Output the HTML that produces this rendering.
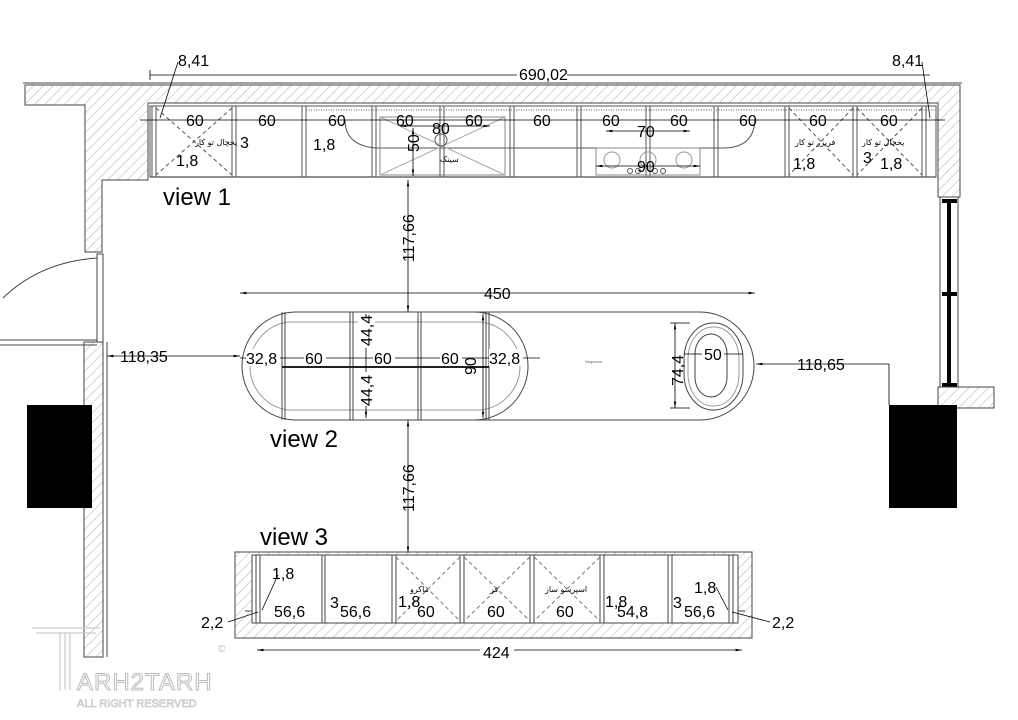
<!DOCTYPE html>
<html><head><meta charset="utf-8"><style>
html,body{margin:0;padding:0;background:#fff;}
svg{display:block;}
text{font-family:"Liberation Sans",sans-serif;fill:#000;}
.t{font-size:16px;}
.v{font-size:24px;}
.fa{font-family:"DejaVu Sans",sans-serif;font-size:8px;}
</style></head><body>
<svg width="1018" height="720" viewBox="0 0 1018 720" xmlns="http://www.w3.org/2000/svg">
<defs>
<pattern id="h" width="7" height="7" patternUnits="userSpaceOnUse" patternTransform="rotate(45)">
<line x1="0" y1="0" x2="0" y2="7" stroke="#999" stroke-width="0.8"/>
</pattern>
<marker id="a" markerWidth="8" markerHeight="6" refX="8" refY="3" orient="auto-start-reverse"><path d="M0,1.5 L8,3 L0,4.5z" fill="#000"/></marker>
</defs>
<g stroke="#444" stroke-width="1">
<path d="M25,85 H960 V197 H938 V103 H148 V180 H102 V252 H85 V105 H25 Z" fill="url(#h)"/>
<path d="M23,83 H962" fill="none"/>
<rect x="84" y="342" width="19" height="315" fill="url(#h)"/>
<line x1="107" y1="342" x2="107" y2="657"/>
<rect x="97" y="254" width="6" height="88" fill="#fff"/>
<path d="M97,258 Q40,262 3,298" fill="none"/>
<line x1="0" y1="340" x2="97" y2="340"/><line x1="0" y1="345" x2="97" y2="345"/>
<rect x="940" y="197" width="18" height="190" fill="#fff"/>
<line x1="949" y1="199" x2="949" y2="385" stroke="#000" stroke-width="4"/>
<line x1="942" y1="201" x2="957" y2="201" stroke="#000" stroke-width="4"/>
<line x1="942" y1="294" x2="957" y2="294" stroke="#000" stroke-width="4"/>
<line x1="942" y1="385" x2="957" y2="385" stroke="#000" stroke-width="4"/>
<rect x="938" y="387" width="56" height="21" fill="url(#h)"/>
</g>
<rect x="27" y="405" width="65" height="103" fill="#000"/>
<rect x="889" y="405" width="68" height="103" fill="#000"/>

<g stroke="#555" stroke-width="1" fill="none">
<rect x="150" y="106" width="786" height="71"/>
<line x1="150" y1="177" x2="936" y2="177" stroke="#222"/>
<path d="M152,106V177 M156,106V177 M232,106V177 M236,106V177 M302,106V177 M306,106V177 M372,106V177 M376,106V177 M440,106V177 M444,106V177 M510,106V177 M514,106V177 M577,106V177 M581,106V177 M646,106V177 M650,106V177 M714,106V177 M718,106V177 M785,106V177 M789,106V177 M853,106V177 M857,106V177 M922,106V177 M926,106V177"/>
<path d="M156,108 L232,175 M232,108 L156,175 M789,108 L853,175 M853,108 L789,175 M857,108 L922,175 M922,108 L857,175" stroke-dasharray="4,3"/>
<line x1="306" y1="110" x2="936" y2="110" stroke-dasharray="1,1.5"/>
<path d="M345,120 Q345,145 375,148 H520"/>
<path d="M755,118 Q755,147 725,148 H520"/>
<rect x="380" y="117" width="125" height="58" stroke="#888"/>
<path d="M380,117 L505,175 M505,117 L380,175" stroke="#aaa"/>
<circle cx="441" cy="140" r="6"/>
<rect x="596" y="148" width="104" height="27" stroke="#888"/>
<circle cx="612" cy="160" r="8" stroke="#999"/><circle cx="648" cy="160" r="8" stroke="#999"/><circle cx="684" cy="160" r="8" stroke="#999"/>
<circle cx="630" cy="171" r="2.5"/><circle cx="638" cy="171" r="2.5"/><circle cx="655" cy="171" r="2.5"/><circle cx="663" cy="171" r="2.5"/>
</g>
<g stroke="#000" stroke-width="0.8" fill="none">
<line x1="140" y1="120" x2="945" y2="120"/>
<line x1="150" y1="75" x2="930" y2="75"/>
<line x1="150" y1="70" x2="150" y2="80"/>
<path d="M178,62 L160,118 M922,62 L930,118"/>
<line x1="400" y1="126" x2="490" y2="126" marker-start="url(#a)" marker-end="url(#a)"/>
<line x1="413" y1="128" x2="413" y2="176" marker-start="url(#a)" marker-end="url(#a)"/>
<line x1="606" y1="131" x2="690" y2="131" marker-start="url(#a)" marker-end="url(#a)"/>
<line x1="596" y1="166" x2="700" y2="166" marker-start="url(#a)" marker-end="url(#a)"/>
<line x1="408" y1="180" x2="408" y2="312" marker-start="url(#a)" marker-end="url(#a)"/>
<line x1="408" y1="420" x2="408" y2="553" marker-start="url(#a)" marker-end="url(#a)"/>
<line x1="240" y1="293" x2="755" y2="293" marker-start="url(#a)" marker-end="url(#a)"/>
<line x1="107" y1="356" x2="240" y2="356" marker-start="url(#a)" marker-end="url(#a)"/>
<line x1="756" y1="364" x2="889" y2="364" marker-start="url(#a)"/>
<line x1="889" y1="364" x2="889" y2="405"/>
<line x1="257" y1="650" x2="742" y2="650" marker-start="url(#a)" marker-end="url(#a)"/>
<line x1="245" y1="611" x2="745" y2="611"/>
</g>
<g fill="#fff"><rect x="517" y="66" width="50" height="16"/></g>
<text class="t" x="178" y="66">8,41</text>
<text class="t" x="519" y="80">690,02</text>
<text class="t" x="892" y="66">8,41</text>
<g class="t">
<text x="186" y="126">60</text><text x="258" y="126">60</text><text x="328" y="126">60</text>
<text x="396" y="126">60</text><text x="465" y="126">60</text><text x="533" y="126">60</text>
<text x="602" y="126">60</text><text x="670" y="126">60</text><text x="739" y="126">60</text>
<text x="809" y="126">60</text><text x="880" y="126">60</text>
<text x="432" y="134">80</text><text x="637" y="137">70</text><text x="637" y="172">90</text>
<text x="240" y="148">3</text><text x="176" y="166">1,8</text><text x="313" y="150">1,8</text>
<text x="793" y="169">1,8</text><text x="863" y="163">3</text><text x="880" y="169">1,8</text>
<text transform="translate(419,152) rotate(-90)">50</text>
<text transform="translate(414,262) rotate(-90)">117,66</text>
<text transform="translate(414,512) rotate(-90)">117,66</text>
<text x="484" y="299">450</text>
<text x="120" y="362">118,35</text>
<text x="797" y="370">118,65</text>
</g>
<text class="fa" x="195" y="145">یخچال تو کار</text>
<text class="fa" x="795" y="145">فریزر تو کار</text>
<text class="fa" x="862" y="145">یخچال تو کار</text>
<text class="fa" x="440" y="162">سینک</text>
<text class="v" x="163" y="205">view 1</text>

<g stroke="#444" stroke-width="1" fill="none">
<path d="M296,312 H700 A54,54 0 0 1 754,366 V366 A54,54 0 0 1 700,420 H296 A54,54 0 0 1 242,366 A54,54 0 0 1 296,312 Z"/>
<path d="M288,322 H480 A44,44 0 0 1 520,366 A44,44 0 0 1 480,410 H288 A44,44 0 0 1 250,366 A44,44 0 0 1 288,322 Z" stroke="#999"/>
<path d="M474,312 A54,54 0 0 1 528,366 A54,54 0 0 1 474,420"/>
<path d="M282,312V420 M285,312V420 M350,312V420 M353,312V420 M418,312V420 M421,312V420 M486,312V420 M489,312V420"/>
<line x1="282" y1="367" x2="489" y2="367" stroke="#222" stroke-width="2"/>
<rect x="684" y="323" width="59" height="87" rx="29" ry="36"/>
<rect x="688" y="327" width="51" height="79" rx="25" ry="32" stroke="#999"/>
<rect x="695" y="334" width="32" height="63" rx="16" ry="20"/>
</g>
<g stroke="#000" stroke-width="0.8" fill="none">
<line x1="240" y1="358" x2="540" y2="358"/>
<line x1="366" y1="314" x2="366" y2="418" marker-start="url(#a)" marker-end="url(#a)"/>
<line x1="483" y1="314" x2="483" y2="418" marker-start="url(#a)" marker-end="url(#a)"/>
<line x1="675" y1="323" x2="675" y2="408" marker-start="url(#a)" marker-end="url(#a)"/>
<line x1="684" y1="354" x2="743" y2="354"/>
<path d="M670,323H690 M670,408H690"/>
</g>
<g fill="#fff"><rect x="246" y="349" width="34" height="17"/><rect x="304" y="349" width="22" height="17"/><rect x="373" y="349" width="22" height="17"/><rect x="440" y="349" width="22" height="17"/><rect x="489" y="349" width="34" height="17"/><rect x="358" y="318" width="17" height="30"/><rect x="358" y="372" width="17" height="34"/><rect x="702" y="346" width="22" height="17"/></g>
<g class="t">
<text x="246" y="364">32,8</text><text x="305" y="364">60</text><text x="374" y="364">60</text>
<text x="441" y="364">60</text><text x="489" y="364">32,8</text>
<text transform="translate(372,346) rotate(-90)">44,4</text>
<text transform="translate(372,406) rotate(-90)">44,4</text>
<text transform="translate(476,375) rotate(-90)">90</text>
<text transform="translate(683,386) rotate(-90)">74,4</text>
<text x="704" y="360">50</text>
</g>
<text x="585" y="363" style="font-size:4px;fill:#666">Negresco</text>
<text class="v" x="270" y="447">view 2</text>

<g stroke="#444" stroke-width="1" fill="none">
<path d="M235,552 H752 V638 H235 Z" fill="url(#h)"/>
<rect x="252" y="555" width="486" height="68" fill="#fff"/>
<path d="M256,555V623 M260,555V623 M322,555V623 M325,555V623 M392,555V623 M396,555V623 M460,555V623 M464,555V623 M530,555V623 M534,555V623 M600,555V623 M604,555V623 M668,555V623 M672,555V623 M729,555V623 M733,555V623"/>
<path d="M396,557 L460,621 M460,557 L396,621 M464,557 L530,621 M530,557 L464,621 M534,557 L600,621 M600,557 L534,621" stroke-dasharray="4,3" stroke="#777"/>
</g>
<g fill="#fff"><rect x="274" y="603" width="34" height="16"/><rect x="340" y="603" width="34" height="16"/><rect x="415" y="603" width="22" height="16"/><rect x="485" y="603" width="22" height="16"/><rect x="554" y="603" width="22" height="16"/><rect x="617" y="603" width="34" height="16"/><rect x="684" y="603" width="34" height="16"/><rect x="480" y="643" width="34" height="16"/></g>
<g stroke="#000" stroke-width="0.8" fill="none"><path d="M228,622 L258,612 M770,622 L732,612 M278,575 L262,610 M716,587 L728,610"/></g>
<g class="t">
<text x="274" y="617">56,6</text><text x="340" y="617">56,6</text><text x="417" y="617">60</text>
<text x="487" y="617">60</text><text x="556" y="617">60</text><text x="617" y="617">54,8</text>
<text x="684" y="617">56,6</text>
<text x="201" y="628">2,2</text><text x="772" y="628">2,2</text>
<text x="272" y="579">1,8</text><text x="330" y="608">3</text><text x="398" y="607">1,8</text>
<text x="605" y="607">1,8</text><text x="673" y="608">3</text><text x="694" y="593">1,8</text>
<text x="483" y="658">424</text>
</g>
<text class="fa" x="410" y="592">ماکرو</text>
<text class="fa" x="490" y="592">فر</text>
<text class="fa" x="545" y="592">اسپرسو ساز</text>
<text class="v" x="260" y="545">view 3</text>

<g fill="none" stroke="#ccc" stroke-width="1.2">
<path d="M32,628 H100 M36,633 H96 M60,633 V690 M65,633 V690 M70,633 V690"/>
</g>
<text x="77" y="690" style="font-size:24px;fill:#fff;stroke:#bbb;stroke-width:1;letter-spacing:1px">ARH2TARH</text>
<text x="77" y="707" style="font-size:11px;fill:#fff;stroke:#bbb;stroke-width:0.6">ALL RIGHT RESERVED</text>
<text x="218" y="652" style="font-size:10px;fill:#bbb">©</text>
</svg>
</body></html>
